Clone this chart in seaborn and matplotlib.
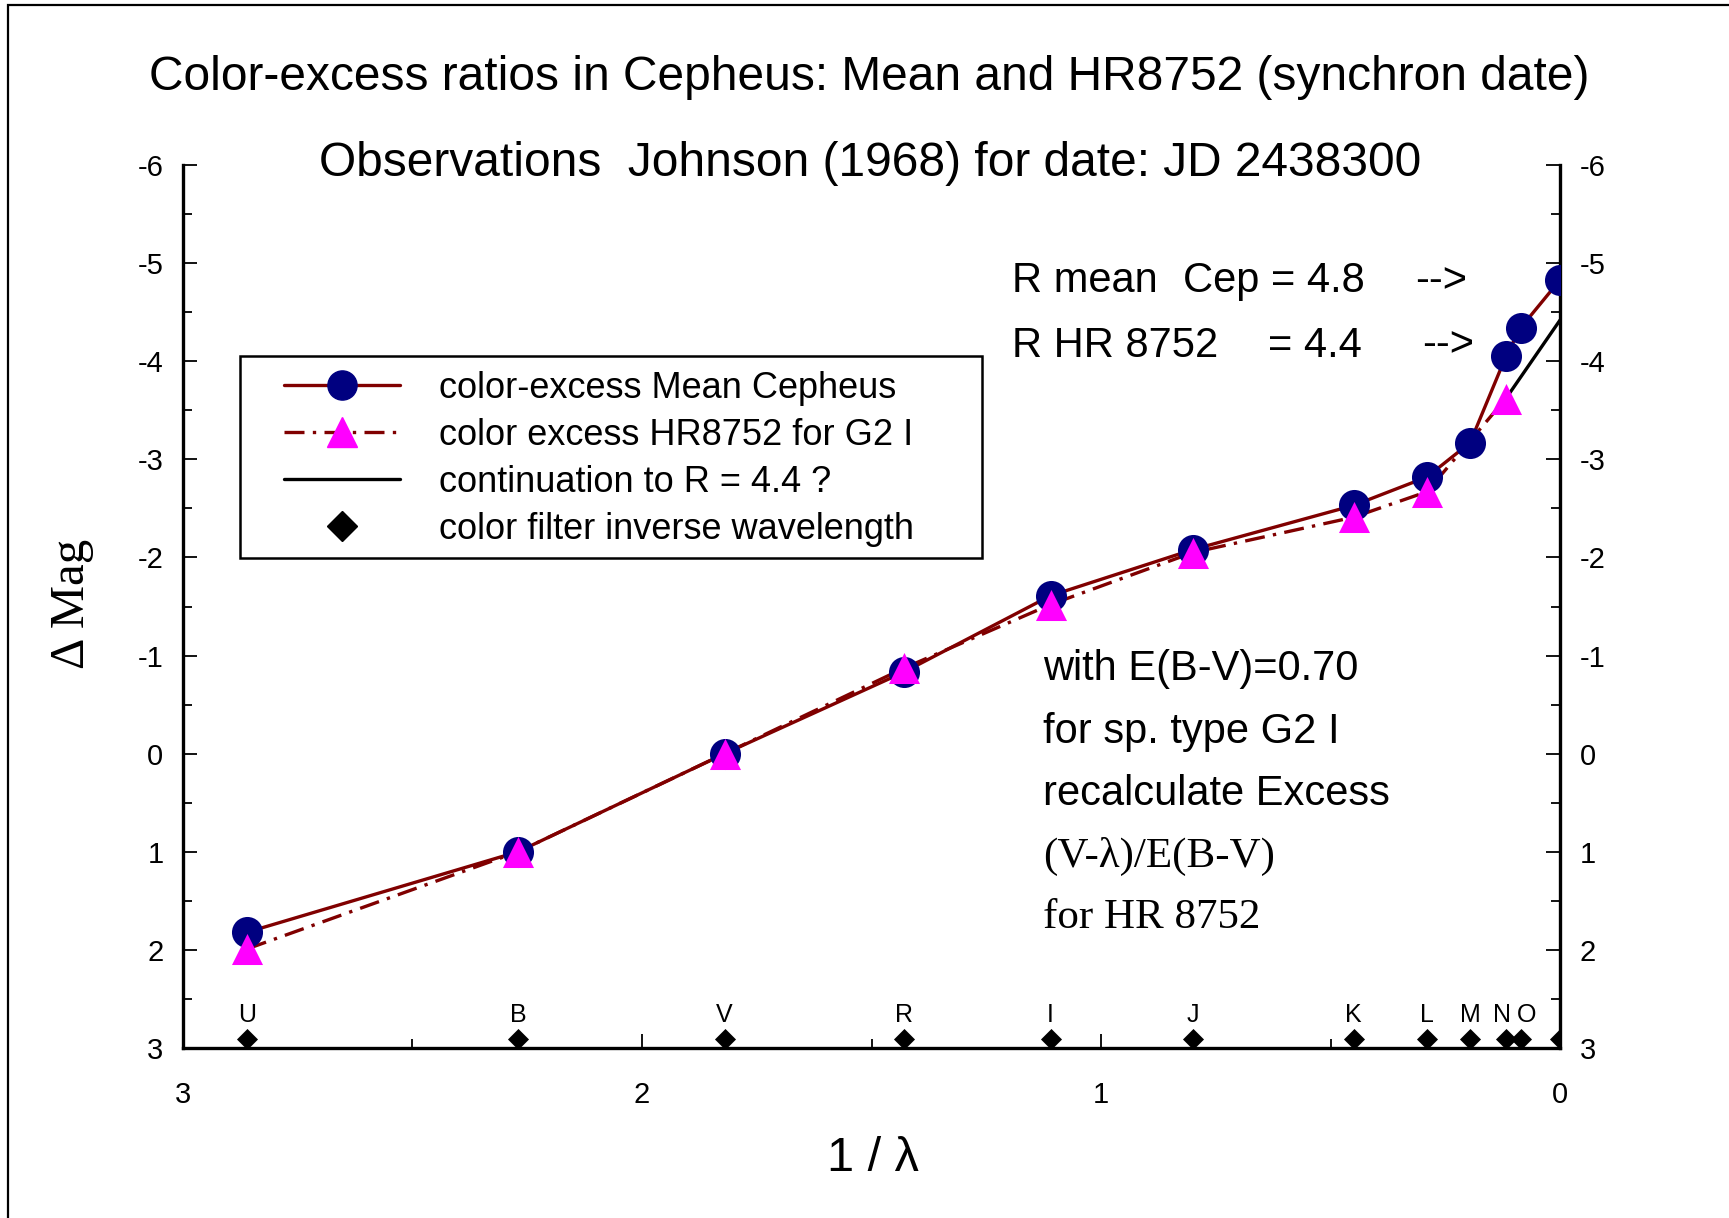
# color-excess ratios in Cepheus, Johnson (1968) filters

import numpy as np
import pandas as pd
import matplotlib
matplotlib.use("Agg")
import matplotlib.pyplot as plt
import seaborn as sns
from matplotlib.lines import Line2D
from matplotlib.patches import Rectangle
from matplotlib.ticker import MultipleLocator

# ------------------------------------------------------------
# DATA
# ------------------------------------------------------------

filter_names = ["U", "B", "V", "R", "I", "J", "K", "L", "M", "N", "O", ""]
inv_wavelength = [2.86, 2.27, 1.82, 1.43, 1.11, 0.80, 0.45, 0.29, 0.196, 0.118, 0.086, 0.0]

# mean Cepheus color excess, one value per filter
mean_cep = [1.82, 1.00, 0.00, -0.83, -1.61, -2.08, -2.53, -2.82, -3.17, -4.05, -4.34, -4.83]

# HR8752 for G2 I (no M, O or infinity point)
hr_x = [2.86, 2.27, 1.82, 1.43, 1.11, 0.80, 0.45, 0.29, 0.118]
hr8752 = [1.99, 1.00, 0.00, -0.87, -1.52, -2.05, -2.41, -2.67, -3.62]

# continuation of HR8752 towards R = 4.4
cont_x = [0.118, 0.0]
cont_y = [-3.62, -4.42]

# filter markers along the bottom
filter_marker_y = 2.91
filter_label_y = 2.66

mean_df = pd.DataFrame({"x": inv_wavelength, "y": mean_cep})
hr_df = pd.DataFrame({"x": hr_x, "y": hr8752})
cont_df = pd.DataFrame({"x": cont_x, "y": cont_y})
filt_df = pd.DataFrame({"x": inv_wavelength, "y": [filter_marker_y] * len(inv_wavelength)})

DARKRED = "#800000"
NAVY = "#000080"
MAGENTA = "#FF00FF"
DASHDOT = (0, (6, 2.5, 1, 2.5))
SERIF = ["Liberation Serif", "DejaVu Serif"]

# ------------------------------------------------------------
# STYLE
# ------------------------------------------------------------

sns.set_style("white")
plt.rcParams["font.family"] = ["Liberation Sans", "DejaVu Sans"]
plt.rcParams["axes.unicode_minus"] = False
plt.rcParams["text.color"] = "black"
plt.rcParams["xtick.color"] = "black"
plt.rcParams["ytick.color"] = "black"

fig = plt.figure(figsize=(17.29, 12.18), dpi=100)
ax = fig.add_axes([0.1058, 0.1396, 0.9023 - 0.1058, 0.8645 - 0.1396])

# ------------------------------------------------------------
# LINES AND MARKERS
# ------------------------------------------------------------

sns.lineplot(data=mean_df, x="x", y="y", ax=ax, sort=False, estimator=None,
             color=DARKRED, linewidth=2.4, zorder=2)
sns.lineplot(data=hr_df, x="x", y="y", ax=ax, sort=False, estimator=None,
             color=DARKRED, linewidth=2.4, linestyle=DASHDOT, zorder=2)
sns.lineplot(data=cont_df, x="x", y="y", ax=ax, sort=False, estimator=None,
             color="black", linewidth=2.4, zorder=2)

sns.scatterplot(data=mean_df, x="x", y="y", ax=ax, marker="o", s=500,
                color=NAVY, edgecolor=NAVY, linewidth=0, zorder=3)
sns.scatterplot(data=hr_df, x="x", y="y", ax=ax, marker="^", s=500,
                color=MAGENTA, edgecolor=MAGENTA, linewidth=0, zorder=4)
sns.scatterplot(data=filt_df, x="x", y="y", ax=ax, marker="D", s=115,
                color="black", edgecolor="black", linewidth=0, zorder=4)

# N and O sit very close together: push them apart a few points
for name, xv in zip(filter_names, inv_wavelength):
    nudge = {"N": -3, "O": 4}.get(name, 0)
    ax.annotate(name, (xv, filter_label_y), xytext=(nudge, 0),
                textcoords="offset points", ha="center", va="center", fontsize=18)

# ------------------------------------------------------------
# AXES
# ------------------------------------------------------------

ax.set_xlim(3, 0)
ax.set_ylim(3, -6)
ax.set_xlabel("")
ax.set_ylabel("")

ax.xaxis.set_major_locator(MultipleLocator(1))
ax.xaxis.set_minor_locator(MultipleLocator(0.5))
ax.yaxis.set_major_locator(MultipleLocator(1))
ax.yaxis.set_minor_locator(MultipleLocator(0.5))

ax.tick_params(axis="both", which="both", direction="in", color="black", width=1.3)
ax.tick_params(axis="y", which="both", left=True, right=True, labelright=True)
ax.tick_params(axis="x", which="both", bottom=True, top=False)
ax.tick_params(axis="both", which="major", length=10, labelsize=21)
ax.tick_params(axis="both", which="minor", length=6.5)
ax.tick_params(axis="y", which="major", pad=14)
ax.tick_params(axis="x", which="major", pad=24)

ax.spines["top"].set_visible(False)
for side in ["left", "right", "bottom"]:
    ax.spines[side].set_visible(True)
    ax.spines[side].set_color("black")
    ax.spines[side].set_linewidth(2.4)

# ------------------------------------------------------------
# TEXT
# ------------------------------------------------------------

fig.text(0.503, 0.936, "Color-excess ratios in Cepheus: Mean and HR8752 (synchron date)",
         ha="center", va="center", fontsize=34.5)
fig.text(0.503, 0.866, "Observations  Johnson (1968) for date: JD 2438300",
         ha="center", va="center", fontsize=34.5)

ax.text(1.194, -4.82, "R mean", ha="left", va="center", fontsize=30)
ax.text(0.821, -4.82, "Cep = 4.8", ha="left", va="center", fontsize=30)
ax.text(0.315, -4.82, "-->", ha="left", va="center", fontsize=30)
ax.text(1.194, -4.16, "R HR 8752", ha="left", va="center", fontsize=30)
ax.text(0.636, -4.16, "= 4.4", ha="left", va="center", fontsize=30)
ax.text(0.300, -4.16, "-->", ha="left", va="center", fontsize=30)

ax.text(1.126, -0.86, "with E(B-V)=0.70", ha="left", va="center", fontsize=30)
ax.text(1.126, -0.22, "for sp. type G2 I", ha="left", va="center", fontsize=30)
ax.text(1.126, 0.41, "recalculate Excess", ha="left", va="center", fontsize=30)
ax.text(1.126, 1.05, "(V-\u03bb)/E(B-V)", ha="left", va="center", fontsize=31,
        family=SERIF)
ax.text(1.126, 1.67, "for HR 8752", ha="left", va="center", fontsize=31,
        family=SERIF)

fig.text(0.0416, 0.504, "\u0394 Mag", rotation=90, ha="center", va="center",
         fontsize=35, family=SERIF)
fig.text(0.505, 0.049, "1 / \u03bb", ha="center", va="center", fontsize=35)

# ------------------------------------------------------------
# LEGEND (frame drawn separately so it can be wider than the text)
# ------------------------------------------------------------

handles = [
    Line2D([], [], color=DARKRED, linewidth=2.4, marker="o", markersize=21,
           markerfacecolor=NAVY, markeredgecolor=NAVY),
    Line2D([], [], color=DARKRED, linewidth=2.4, linestyle=DASHDOT, marker="^",
           markersize=21, markerfacecolor=MAGENTA, markeredgecolor=MAGENTA),
    Line2D([], [], color="black", linewidth=2.4),
    Line2D([], [], color="none", marker="D", markersize=15,
           markerfacecolor="black", markeredgecolor="black"),
]
labels = [
    "color-excess Mean Cepheus",
    "color excess HR8752 for G2 I",
    "continuation to R = 4.4 ?",
    "color filter inverse wavelength",
]
leg = ax.legend(handles, labels, loc="upper left", bbox_to_anchor=(0.0737, 0.7667),
                frameon=False, fontsize=26, handlelength=3.2, handletextpad=1.07,
                labelspacing=0.33, borderpad=0, borderaxespad=0)

ax.add_patch(Rectangle((0.0414, 0.555), 0.5389, 0.2288, transform=ax.transAxes,
                       fill=False, edgecolor="black", linewidth=1.8, zorder=5))

# border round the whole picture (cut at right and bottom)
fig.patches.append(Rectangle((0.0046, -0.05), 1.2, 0.9963 + 0.05,
                             transform=fig.transFigure, fill=False,
                             edgecolor="black", linewidth=1.6))

fig.savefig("out.png", dpi=100)
